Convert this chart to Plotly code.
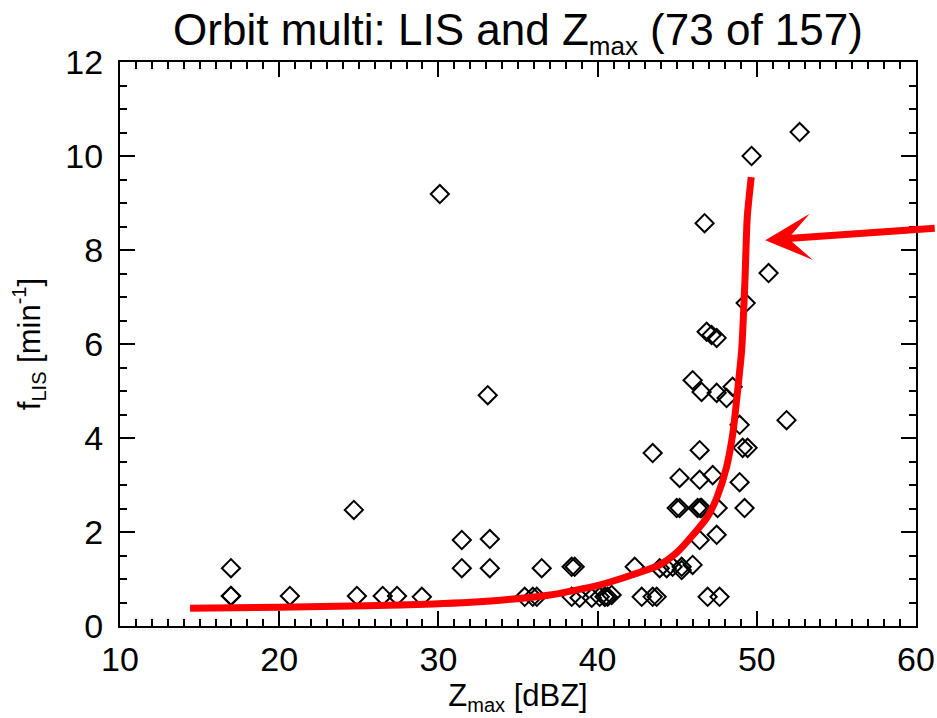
import plotly.graph_objects as go

# Scatter points (Zmax [dBZ], f_LIS [min^-1])
zmax = [16.97, 16.97, 16.97, 20.67, 24.69, 24.88, 26.5, 27.4, 28.96, 30.09,
        31.47, 31.47, 33.1, 33.23, 33.23,
        35.42, 35.93, 36.18, 38.37, 38.87, 39.63, 40.13, 40.45, 40.45, 40.63, 40.88,
        36.49, 38.37, 38.56, 42.33,
        42.77, 43.46, 43.71, 43.46,
        43.9, 44.34, 44.71, 45.28, 45.28, 45.97,
        45.15, 44.97, 45.15, 46.41,
        46.91, 47.66, 47.48, 46.41, 46.41,
        46.28, 46.53, 46.45, 47.54, 47.23,
        48.92, 49.23, 48.92, 49.11, 49.42, 51.87,
        45.97, 46.53, 47.48, 48.1, 48.48,
        52.69, 49.67, 46.72, 50.74, 49.3,
        46.85, 47.16, 47.48]
f_lis = [1.23, 0.64, 0.64, 0.64, 2.47, 0.64, 0.64, 0.64, 0.62, 9.19,
         1.83, 1.23, 4.91, 1.85, 1.23,
         0.62, 0.62, 0.62, 0.62, 0.60, 0.60, 0.62, 0.62, 0.62, 0.62, 0.66,
         1.23, 1.26, 1.26, 1.26,
         0.62, 0.62, 0.62, 3.68,
         1.23, 1.23, 1.26, 1.26, 1.19, 1.30,
         3.15, 2.51, 2.51, 1.83,
         0.62, 0.62, 1.94, 3.74, 3.11,
         2.51, 2.51, 2.51, 2.51, 3.21,
         3.06, 2.51, 4.28, 3.79, 3.79, 4.38,
         5.23, 4.98, 4.96, 4.85, 5.09,
         10.51, 10.0, 8.57, 7.51, 6.87,
         6.26, 6.19, 6.13]

# Red fit curve
curve_z = [14.4, 20.0, 25.5, 29.7, 33.9, 37.0, 40.1, 42.2, 43.9, 45.0,
           46.0, 46.9, 47.5, 48.1, 48.5, 48.8, 49.05, 49.25, 49.4, 49.65]
curve_f = [0.38, 0.40, 0.43, 0.47, 0.55, 0.66, 0.87, 1.09, 1.30, 1.57,
           1.94, 2.32, 2.74, 3.38, 4.11, 5.02, 5.87, 7.30, 8.70, 9.55]

# Arrow tip (data coords)
arrow_tip = (50.53, 8.21)

x_ticks = [10, 20, 30, 40, 50, 60]
y_ticks = [0, 2, 4, 6, 8, 10, 12]

FONT = "Liberation Sans"

fig = go.Figure()
fig.add_trace(go.Scatter(
    x=zmax, y=f_lis, mode="markers",
    marker=dict(symbol="diamond-open", size=14, color="black",
                line=dict(width=2, color="black")),
    showlegend=False, hoverinfo="skip"))
fig.add_trace(go.Scatter(
    x=curve_z, y=curve_f, mode="lines",
    line=dict(color="#ff0000", width=7, shape="spline", smoothing=0.6),
    showlegend=False, hoverinfo="skip"))

fig.add_annotation(
    x=arrow_tip[0], y=arrow_tip[1], xref="x", yref="y",
    ax=171, ay=-12, axref="pixel", ayref="pixel",
    text="", showarrow=True, arrowhead=3, arrowsize=1.1,
    arrowwidth=7, arrowcolor="#ff0000")

axis_common = dict(
    showgrid=False, zeroline=False, showline=True, linecolor="black",
    linewidth=2, mirror="allticks", ticks="inside", tickcolor="black",
    tickwidth=2, ticklen=15, automargin=False,
    tickfont=dict(family=FONT, size=34, color="black"),
)

fig.update_xaxes(
    range=[10, 60], tickvals=x_ticks, ticktext=[str(v) for v in x_ticks],
    minor=dict(dtick=1, ticks="inside", ticklen=7, tickwidth=2, tickcolor="black"),
    ticklabelstandoff=2,
    title=dict(text="Z<sub><span style='font-size:20px'>max</span></sub> [dBZ]",
               font=dict(family=FONT, size=31, color="black"), standoff=0),
    **axis_common)
fig.update_yaxes(
    range=[0, 12], tickvals=y_ticks, ticktext=[str(v) for v in y_ticks],
    minor=dict(dtick=0.5, ticks="inside", ticklen=7, tickwidth=2, tickcolor="black"),
    ticklabelstandoff=8,
    title=dict(text="f<sub><span style='font-size:20px'>LIS</span></sub> [min<sup><span style='font-size:20px'>-1</span></sup>]",
               font=dict(family=FONT, size=31, color="black"), standoff=16),
    **axis_common)

fig.update_layout(
    width=937, height=718,
    margin=dict(l=120, r=21, t=62, b=92),
    paper_bgcolor="white", plot_bgcolor="white",
    title=dict(text="Orbit multi: LIS and Z<sub><span style='font-size:26px'>max</span></sub> (73 of 157)",
               font=dict(family=FONT, size=44, color="black"),
               x=0.5, xref="paper", xanchor="center",
               y=1 - 30 / 718, yref="container", yanchor="middle"),
)

# remove the default page margin so the 937x718 figure fills the window
fig.write_html("out.html", config={"displayModeBar": False},
               post_script="document.body.style.margin='0px';document.body.style.overflow='hidden';")
